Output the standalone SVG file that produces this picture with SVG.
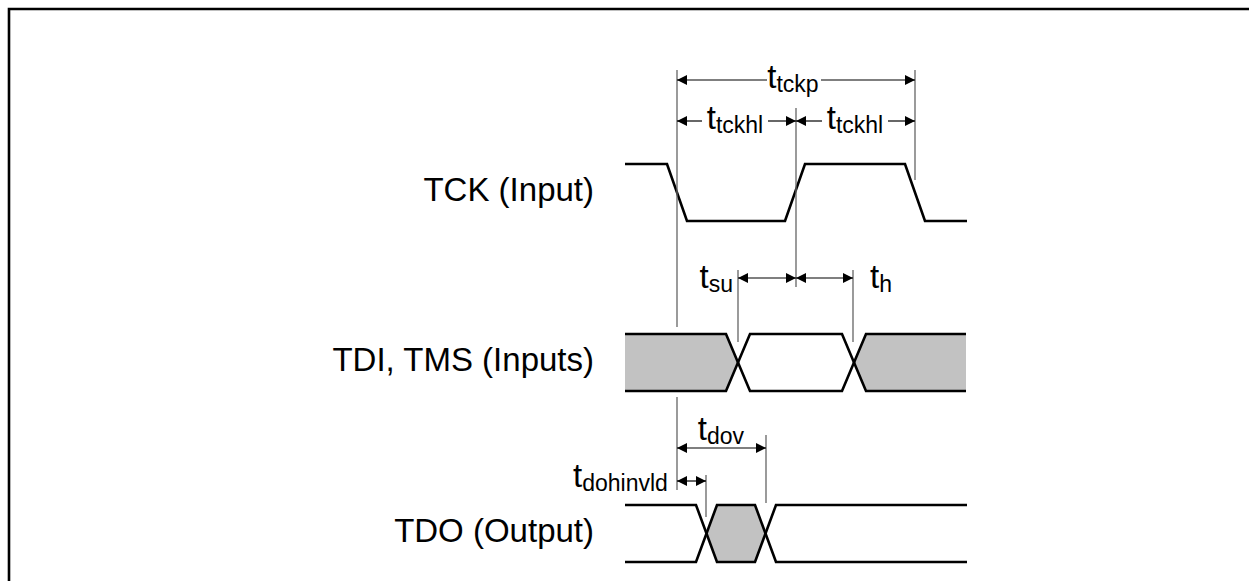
<svg xmlns="http://www.w3.org/2000/svg" width="1249" height="581" viewBox="0 0 1249 581">
<style>
.frame{fill:none;stroke:#000;stroke-width:2.6}
.wave{fill:none;stroke:#000;stroke-width:2.6;stroke-linejoin:miter}
.shade{fill:#c2c2c2;stroke:none}
.tick{stroke:#666;stroke-width:1.3;fill:none}
.dim{stroke:#000;stroke-width:1.2;fill:none}
.both{marker-start:url(#ar);marker-end:url(#ar)}
.st{marker-start:url(#ar)}
.en{marker-end:url(#ar)}
text{font-family:"Liberation Sans",Arial,sans-serif;fill:#000}
.lbl{font-size:33px}
.tl{font-size:33px}
.sub{font-size:23px}
</style>
<defs>
<marker id="ar" viewBox="0 0 10 10" refX="10" refY="5" markerWidth="10" markerHeight="10" markerUnits="userSpaceOnUse" orient="auto-start-reverse">
<path d="M0,0 L10,5 L0,10 Z" fill="#000"/>
</marker>
</defs>
<rect width="1249" height="581" fill="#fff"/>
<path class="frame" d="M9,581 V9 H1249"/>

<g id="tck">
<text class="lbl" x="594" y="201" text-anchor="end">TCK (Input)</text>
<path class="wave" d="M625,164 H667 L687,221 H785 L805,164 H905 L925,221 H967"/>
</g>

<g id="tdi">
<text class="lbl" x="594" y="371" text-anchor="end">TDI, TMS (Inputs)</text>
<path class="shade" d="M625,334 H726 L738,362.5 L726,391 H625 Z"/>
<path class="shade" d="M966,334 H866 L854,362.5 L866,391 H966 Z"/>
<path class="wave" d="M625,334 H726 L750,391 H842 L866,334 H966"/>
<path class="wave" d="M625,391 H726 L750,334 H842 L866,391 H966"/>
</g>

<g id="tdo">
<text class="lbl" x="594" y="542" text-anchor="end">TDO (Output)</text>
<path class="shade" d="M706.5,533.5 L717,505 H755 L765.5,533.5 L755,562 H717 Z"/>
<path class="wave" d="M625,505 H696 L717,562 H755 L776,505 H967"/>
<path class="wave" d="M625,562 H696 L717,505 H755 L776,562 H967"/>
</g>

<g id="connectors">
<path class="tick" d="M677,70 V327 M677,397 V490 M796,108 V287 M915,70 V180 M738,270 V342 M853,270 V342 M766,435 V503 M706,475 V517"/>
<line class="dim st" x1="677" y1="80" x2="767" y2="80"/>
<line class="dim en" x1="821" y1="80" x2="915" y2="80"/>
<line class="dim st" x1="677" y1="121" x2="702" y2="121"/>
<line class="dim en" x1="768" y1="121" x2="796" y2="121"/>
<line class="dim st" x1="796" y1="121" x2="822" y2="121"/>
<line class="dim en" x1="888" y1="121" x2="915" y2="121"/>
<line class="dim both" x1="738" y1="278" x2="796" y2="278"/>
<line class="dim both" x1="796" y1="278" x2="853" y2="278"/>
<line class="dim both" x1="677" y1="448" x2="766" y2="448"/>
<line class="dim both" x1="677" y1="481" x2="706" y2="481"/>
</g>

<g id="labels">
<text class="tl" x="793" y="88" text-anchor="middle">t<tspan class="sub" dy="4">tckp</tspan></text>
<text class="tl" x="735" y="129" text-anchor="middle">t<tspan class="sub" dy="4">tckhl</tspan></text>
<text class="tl" x="855" y="129" text-anchor="middle">t<tspan class="sub" dy="4">tckhl</tspan></text>
<text class="tl" x="733" y="288" text-anchor="end">t<tspan class="sub" dy="4">su</tspan></text>
<text class="tl" x="870" y="288">t<tspan class="sub" dy="4">h</tspan></text>
<text class="tl" x="721" y="440" text-anchor="middle">t<tspan class="sub" dy="4">dov</tspan></text>
<text class="tl" x="573" y="487">t<tspan class="sub" dy="4">dohinvld</tspan></text>
</g>
</svg>
